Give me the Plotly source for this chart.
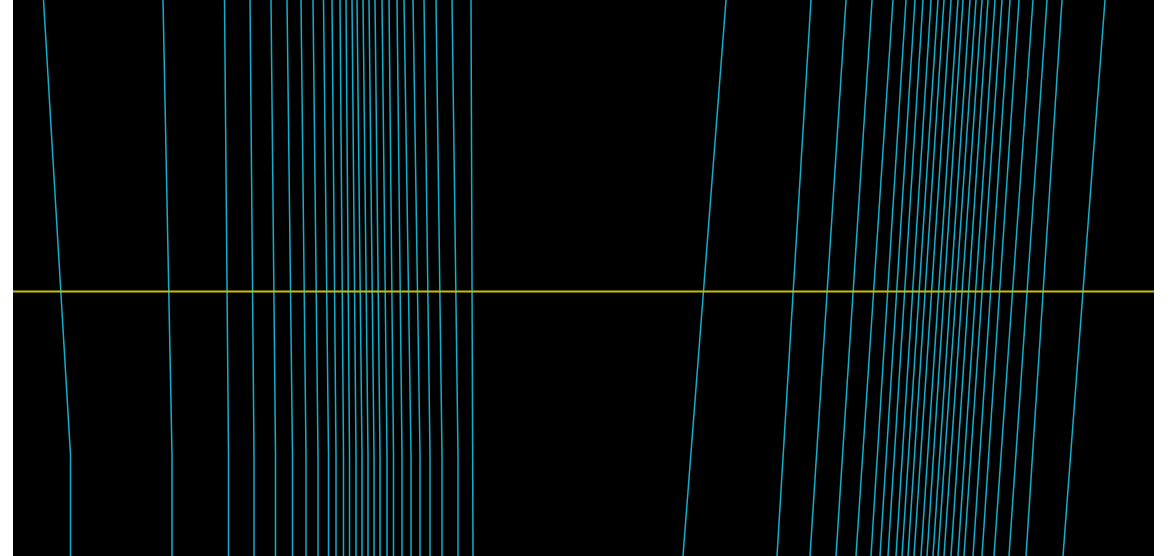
import plotly.graph_objects as go

# Left family: x at top edge (y=0) and x where line turns vertical (y=KNEE_Y) / bottom
left_top = [43.5, 163, 224.5, 250, 271, 287, 301, 313, 323.5, 332, 340, 346, 352, 357,
            363, 369, 375, 382, 389, 397, 404, 413, 424, 436, 452, 471]
left_bottom = [70.5, 172, 228.5, 254, 275.5, 292.5, 306, 318, 328.5, 336, 343.5, 349.5, 356, 362,
               368, 374, 380, 387, 393.5, 402, 411, 420, 430, 442, 458, 473]
KNEE_Y = 455

# Right family: straight lines, x at top and x at bottom
right_top = [726, 811, 846, 872, 893, 906, 915, 923, 931, 938, 944, 951, 958, 963,
             970, 976, 982, 988, 995, 1002, 1010, 1019, 1033, 1047, 1062, 1105]
right_bottom = [683, 777, 810, 836, 856, 871, 880, 888, 896, 902, 908, 914, 921, 927,
                933, 938, 944, 951, 958, 964, 973, 982, 994, 1009, 1026, 1063]

Y_TOP, Y_BOTTOM = 0, 556
X_MIN, X_MAX = 13, 1154
REF_Y = 291.5

CYAN = "#12aecb"
YELLOW = "#c4c000"

lx, ly = [], []
for t, b in zip(left_top, left_bottom):
    lx += [t, b, b, None]
    ly += [Y_TOP, KNEE_Y, Y_BOTTOM, None]

rx, ry = [], []
for t, b in zip(right_top, right_bottom):
    rx += [t, b, None]
    ry += [Y_TOP, Y_BOTTOM, None]

fig = go.Figure()
fig.add_trace(go.Scatter(x=lx, y=ly, mode="lines", line=dict(color=CYAN, width=1.5),
                         hoverinfo="skip", showlegend=False))
fig.add_trace(go.Scatter(x=rx, y=ry, mode="lines", line=dict(color=CYAN, width=1.5),
                         hoverinfo="skip", showlegend=False))
fig.add_trace(go.Scatter(x=[X_MIN, X_MAX], y=[REF_Y, REF_Y], mode="lines",
                         line=dict(color=YELLOW, width=1.8),
                         hoverinfo="skip", showlegend=False))

fig.update_layout(
    width=1173, height=556,
    margin=dict(l=13, r=19, t=0, b=0),
    paper_bgcolor="white", plot_bgcolor="black",
    xaxis=dict(range=[X_MIN, X_MAX], visible=False, fixedrange=True),
    yaxis=dict(range=[Y_BOTTOM, Y_TOP], visible=False, fixedrange=True),
)
fig.write_html("out.html", config={"displayModeBar": False},
               post_script="document.body.style.margin='0';")
